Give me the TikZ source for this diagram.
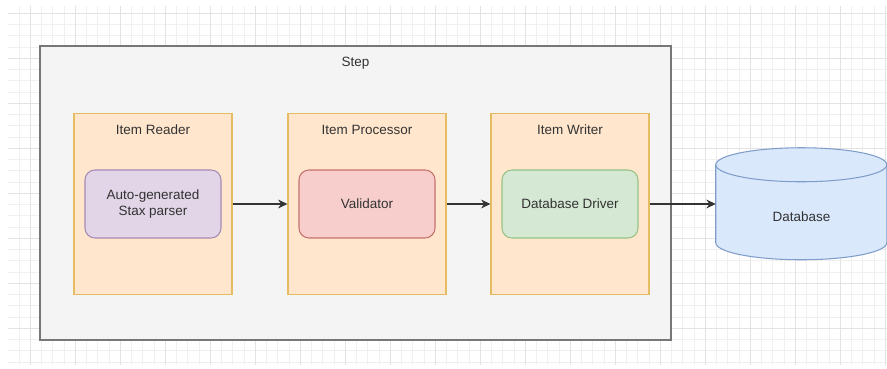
\documentclass[tikz,border=0pt]{standalone}
\usepackage{fontspec}
\setmainfont{Liberation Sans}
\usetikzlibrary{arrows.meta}

\definecolor{stepfill}{HTML}{F4F4F4}
\definecolor{stepline}{HTML}{777777}
\definecolor{itemfill}{HTML}{FFE6CC}
\definecolor{itemline}{HTML}{E6BC62}
\definecolor{purfill}{HTML}{E1D5E7}
\definecolor{purline}{HTML}{A58BB3}
\definecolor{redfill}{HTML}{F8CECC}
\definecolor{redline}{HTML}{C4716D}
\definecolor{grnfill}{HTML}{D5E8D4}
\definecolor{grnline}{HTML}{97C283}
\definecolor{dbfill}{HTML}{DAE8FC}
\definecolor{dbline}{HTML}{7F9DCA}
\definecolor{txt}{HTML}{333333}

\begin{document}
\begin{tikzpicture}[x=0.03cm, y=0.03cm,
    every node/.style = {text = txt, font = \fontsize{11.5}{13.5}\selectfont, align = center},
    stepbox/.style = {draw = stepline, fill = stepfill, line width = 0.9pt,
        minimum width = 18.93cm, minimum height = 8.82cm},
    itembox/.style = {draw = itemline, fill = itemfill, line width = 0.9pt,
        minimum width = 4.74cm, minimum height = 5.43cm},
    innerbox/.style = {rounded corners = 0.3cm, line width = 0.9pt,
        minimum width = 4.08cm, minimum height = 2.04cm},
    dbnode/.style = {minimum width = 5.13cm, minimum height = 3.36cm},
    arr/.style = {-{Stealth[length=8pt, width=7.5pt]}, line width = 0.9pt, draw = txt}]

\fill[white] (0,0) rectangle (887,369);
\useasboundingbox (0,0) rectangle (887,369);

% background grid
\begin{scope}[shift = {(30,356)}]
    \draw[black!6, line width = 0.4pt, step = 0.3375cm] (-22.5,-352) grid (857,7);
    \draw[black!11, line width = 0.4pt, step = 1.35cm] (-22.5,-352) grid (857,7);
\end{scope}

\node[stepbox] (step) at (355.5,176) {};
\node (steplbl) at (355.5,306) {Step};

\node[itembox] (reader) at (153,165) {};
\node[itembox] (proc)   at (367,165) {};
\node[itembox] (writer) at (570,165) {};

\node (readerlbl) at (153,239) {Item Reader};
\node (proclbl)   at (367,239) {Item Processor};
\node (writerlbl) at (570,239) {Item Writer};

\node[innerbox, draw = purline, fill = purfill] (parser) at (153,165) {Auto-generated\\Stax parser};
\node[innerbox, draw = redline, fill = redfill] (valid)  at (367,165) {Validator};
\node[innerbox, draw = grnline, fill = grnfill] (driver) at (570,165) {Database Driver};

% database cylinder
\node[dbnode] (db) at (801.5,165) {};
\draw[draw = dbline, fill = dbfill, line width = 0.9pt]
    ([yshift=-0.51cm]db.north west) -- ++(0,-78)
    arc[start angle = 180, end angle = 360, x radius = 2.565cm, y radius = 0.51cm]
    -- ++(0,78)
    arc[start angle = 0, end angle = 180, x radius = 2.565cm, y radius = 0.51cm] -- cycle;
\draw[draw = dbline, line width = 0.9pt]
    ([yshift=-0.51cm]db.north west)
    arc[start angle = 180, end angle = 360, x radius = 2.565cm, y radius = 0.51cm];
\node (dblbl) at (801.5,152) {Database};

\draw[arr] (reader) -- (proc);
\draw[arr] (proc) -- (writer);
\draw[arr] (writer) -- (db);

\end{tikzpicture}
\end{document}
